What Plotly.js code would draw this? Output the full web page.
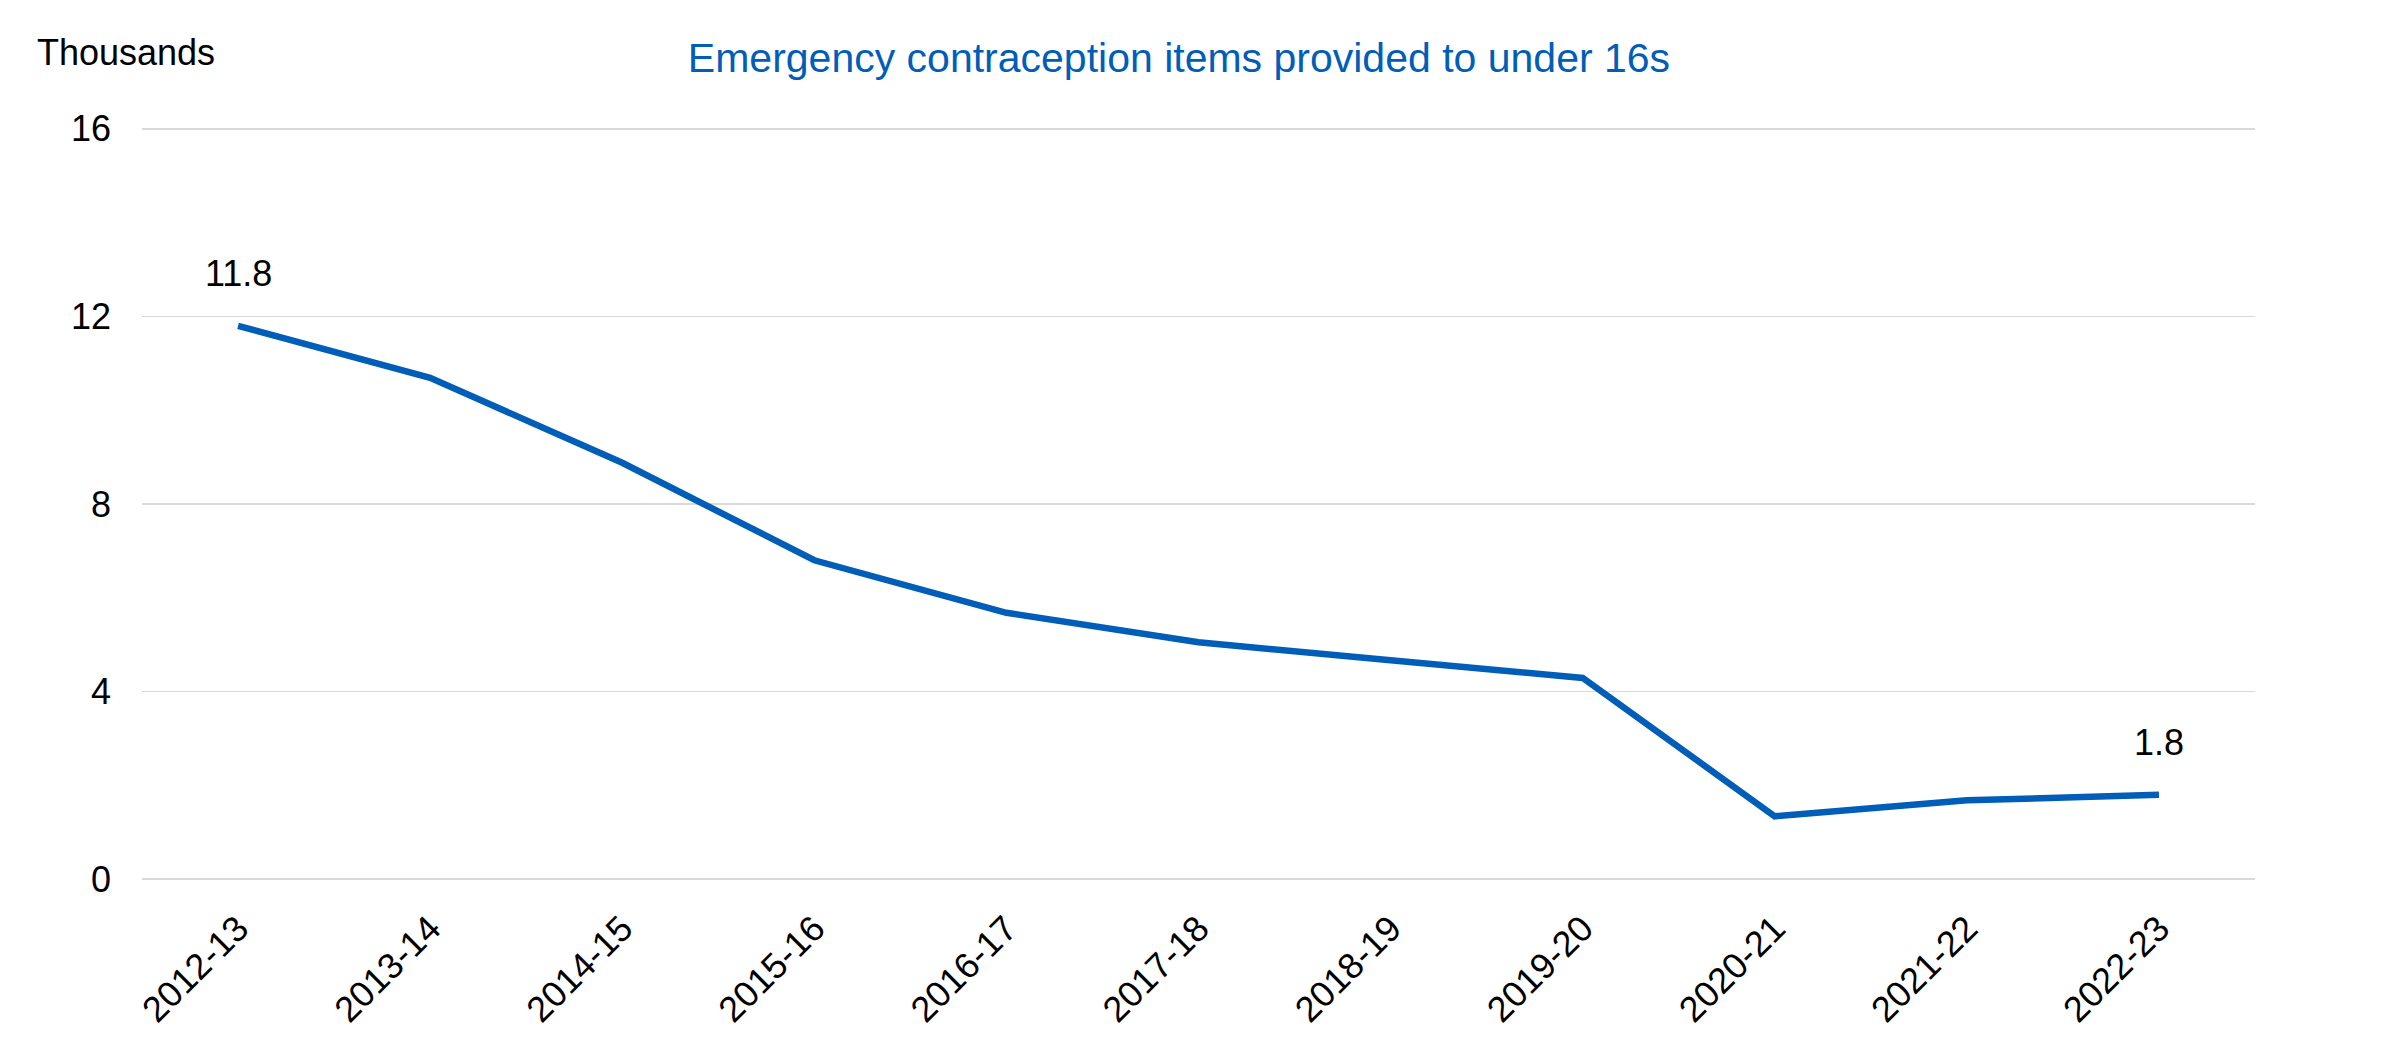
<!DOCTYPE html>
<html>
<head>
<meta charset="utf-8">
<script src="https://cdn.plot.ly/plotly-3.0.1.min.js"></script>
<style>
  html, body { margin: 0; padding: 0; background: #ffffff; }
  #chart { width: 2390px; height: 1063px; }
</style>
</head>
<body>
<div id="chart"></div>
<script>
// Financial years shown on the category axis
const years = ["2012-13", "2013-14", "2014-15", "2015-16", "2016-17", "2017-18",
               "2018-19", "2019-20", "2020-21", "2021-22", "2022-23"];

// Emergency contraception items provided to under 16s (thousands)
const items = [11.8, 10.69, 8.88, 6.8, 5.68, 5.05, 4.67, 4.29, 1.34, 1.68, 1.8];

// Points that carry a value label
const labelledIdx = [0, 10];

const yTicks = [0, 4, 8, 12, 16];

const FONT = "Liberation Sans, Arial, sans-serif";
const BLUE = "#005EB8";

const trace = {
  type: "scatter",
  mode: "lines",
  x: years,
  y: items,
  line: { color: BLUE, width: 6.5, shape: "linear" },
  hoverinfo: "x+y",
  showlegend: false
};

const valueLabels = labelledIdx.map(i => ({
  x: years[i],
  y: items[i],
  xref: "x",
  yref: "y",
  text: items[i].toFixed(1),
  showarrow: false,
  yshift: 52,
  font: { family: FONT, size: 36, color: "#000000" }
}));

// small padding on the value range so the 0 and 16 gridlines are drawn
const PAD = 0.04;
const plotLeft = 142, plotRight = 135, plotTop = 127.4, plotBottom = 181.6;

const layout = {
  width: 2390,
  height: 1063,
  paper_bgcolor: "#ffffff",
  plot_bgcolor: "#ffffff",
  margin: { l: plotLeft, r: plotRight, t: plotTop, b: plotBottom, pad: 0 },
  title: {
    text: "Emergency contraception items provided to under 16s",
    font: { family: FONT, size: 41, color: BLUE },
    x: 0.4933,
    xanchor: "center",
    xref: "container",
    y: 1 - 58 / 1063,
    yanchor: "middle",
    yref: "container"
  },
  xaxis: {
    type: "category",
    categoryorder: "array",
    categoryarray: years,
    range: [-0.5, years.length - 0.5],
    tickangle: -45,
    tickfont: { family: FONT, size: 36, color: "#000000" },
    showgrid: false,
    zeroline: false,
    showline: false,
    ticks: "",
    ticklabelstandoff: 18
  },
  yaxis: {
    range: [0 - PAD, 16 + PAD],
    tickmode: "array",
    tickvals: yTicks,
    ticktext: yTicks.map(String),
    tickfont: { family: FONT, size: 36, color: "#000000" },
    showgrid: true,
    gridcolor: "#d9d9d9",
    gridwidth: 1.5,
    zeroline: false,
    showline: false,
    ticks: "",
    ticklabelstandoff: 30
  },
  annotations: [
    {
      text: "Thousands",
      xref: "paper",
      yref: "paper",
      x: (35 - plotLeft) / (2390 - plotLeft - plotRight),
      xanchor: "left",
      y: 1 + (plotTop - 53) / (1063 - plotTop - plotBottom),
      yanchor: "middle",
      showarrow: false,
      font: { family: FONT, size: 36, color: "#000000" }
    }
  ].concat(valueLabels)
};

Plotly.newPlot("chart", [trace], layout, { displayModeBar: false, staticPlot: true });
</script>
</body>
</html>
